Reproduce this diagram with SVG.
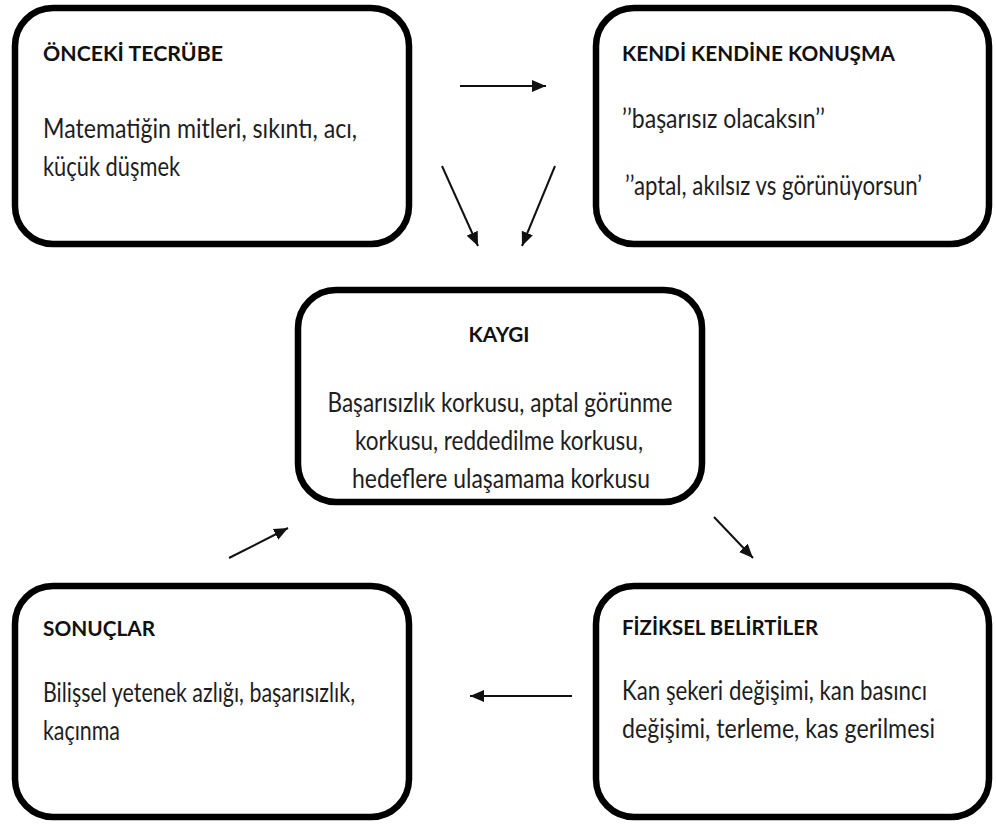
<svg xmlns="http://www.w3.org/2000/svg" width="996" height="825" viewBox="0 0 996 825">
<style>
.box{fill:#fff;stroke:#000;stroke-width:6.5}
.t{font-family:Lato,"Open Sans","Liberation Sans",sans-serif;font-weight:bold;font-size:21px;fill:#111}
.b{font-family:Lato,"Open Sans","Liberation Sans",sans-serif;font-size:26px;fill:#1e1e1e}
.c{text-anchor:middle}
.con{stroke:#111;stroke-width:2;fill:none;marker-end:url(#ah)}
</style>
<defs>
<marker id="ah" viewBox="0 0 14 12" refX="14" refY="6" markerWidth="14" markerHeight="12" markerUnits="userSpaceOnUse" orient="auto">
<path d="M0,0 L14,6 L0,12 z" fill="#111"/>
</marker>
</defs>
<rect width="996" height="825" fill="#fff"/>
<g id="onceki">
<rect class="box" x="15" y="8" width="394" height="236" rx="38"/>
<text class="t" x="43" y="61" textLength="180" lengthAdjust="spacingAndGlyphs">ÖNCEKİ TECRÜBE</text>
<text class="b" x="43" y="138" textLength="314" lengthAdjust="spacingAndGlyphs">Matematiğin mitleri, sıkıntı, acı,</text>
<text class="b" x="43" y="176" textLength="137" lengthAdjust="spacingAndGlyphs">küçük düşmek</text>
</g>
<g id="kendi">
<rect class="box" x="596" y="8" width="393" height="236" rx="38"/>
<text class="t" x="622" y="61" textLength="273" lengthAdjust="spacingAndGlyphs">KENDİ KENDİNE KONUŞMA</text>
<text class="b" x="622" y="128" textLength="203" lengthAdjust="spacingAndGlyphs">’’başarısız olacaksın’’</text>
<text class="b" x="625" y="195" textLength="297" lengthAdjust="spacingAndGlyphs">’’aptal, akılsız vs görünüyorsun’</text>
</g>
<g id="kaygi">
<rect class="box" x="298" y="290" width="404" height="212" rx="38"/>
<text class="t c" x="499" y="342" textLength="61" lengthAdjust="spacingAndGlyphs">KAYGI</text>
<text class="b c" x="500" y="412" textLength="345" lengthAdjust="spacingAndGlyphs">Başarısızlık korkusu, aptal görünme</text>
<text class="b c" x="499" y="450" textLength="288" lengthAdjust="spacingAndGlyphs">korkusu, reddedilme korkusu,</text>
<text class="b c" x="501" y="488" textLength="298" lengthAdjust="spacingAndGlyphs">hedeflere ulaşamama korkusu</text>
</g>
<g id="sonuclar">
<rect class="box" x="15" y="586" width="394" height="231" rx="38"/>
<text class="t" x="43" y="636" textLength="112" lengthAdjust="spacingAndGlyphs">SONUÇLAR</text>
<text class="b" x="43" y="702" textLength="312" lengthAdjust="spacingAndGlyphs">Bilişsel yetenek azlığı, başarısızlık,</text>
<text class="b" x="43" y="740" textLength="77" lengthAdjust="spacingAndGlyphs">kaçınma</text>
</g>
<g id="fiziksel">
<rect class="box" x="596" y="586" width="393" height="231" rx="38"/>
<text class="t" x="622" y="635" textLength="196" lengthAdjust="spacingAndGlyphs">FİZİKSEL BELİRTİLER</text>
<text class="b" x="622" y="700" textLength="305" lengthAdjust="spacingAndGlyphs">Kan şekeri değişimi, kan basıncı</text>
<text class="b" x="622" y="738" textLength="313" lengthAdjust="spacingAndGlyphs">değişimi, terleme, kas gerilmesi</text>
</g>
<g id="connectors">
<line class="con" x1="460" y1="86" x2="546" y2="86"/>
<line class="con" x1="442" y1="166" x2="478" y2="246"/>
<line class="con" x1="555" y1="166" x2="522" y2="246"/>
<line class="con" x1="229" y1="558" x2="288" y2="528"/>
<line class="con" x1="714" y1="517" x2="753" y2="558"/>
<line class="con" x1="572" y1="696" x2="470" y2="696"/>
</g>
</svg>
